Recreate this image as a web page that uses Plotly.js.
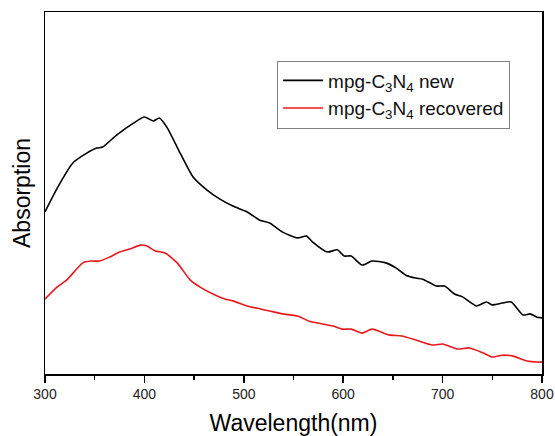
<!DOCTYPE html>
<html>
<head>
<meta charset="utf-8">
<script src="https://cdn.plot.ly/plotly-3.0.1.min.js"></script>
<style>html,body{margin:0;padding:0;background:#fff;}#chart{width:555px;height:436px;}</style>
</head>
<body>
<div id="chart"></div>
<script>
// Wavelength (nm) and absorption (arbitrary units)
const newWavelength = [300, 313, 328, 342, 352, 358, 372, 389, 400, 409, 415, 423, 436, 449, 463, 476, 489, 503, 516, 526, 539, 554, 563, 569, 584, 594, 601, 608, 619, 629, 643, 653, 663, 673, 680, 694, 702, 712, 720, 734, 744, 750, 760, 769, 781, 788, 795, 800];
const newAbsorption = [44.8, 51.7, 58.3, 61.0, 62.4, 62.7, 66.0, 69.3, 71.0, 69.9, 70.7, 68.0, 61.0, 54.4, 50.8, 48.3, 46.4, 44.8, 42.5, 41.7, 39.2, 37.6, 38.1, 36.5, 33.7, 34.3, 32.6, 32.6, 30.1, 31.2, 30.7, 29.3, 27.3, 26.5, 26.2, 24.3, 24.3, 22.1, 21.3, 18.8, 19.9, 19.1, 19.6, 19.9, 16.3, 16.6, 15.7, 15.5];

const recWavelength = [300, 312, 322, 338, 346, 355, 365, 375, 385, 396, 402, 411, 421, 433, 446, 456, 469, 481, 489, 503, 516, 526, 539, 554, 566, 589, 599, 608, 619, 629, 646, 659, 673, 690, 700, 715, 727, 741, 750, 760, 770, 785, 795, 800];
const recAbsorption = [20.7, 24.0, 26.0, 30.7, 31.2, 31.2, 32.3, 33.7, 34.5, 35.6, 35.4, 34.0, 33.4, 30.7, 26.0, 24.0, 22.1, 20.7, 20.2, 18.8, 18.0, 17.4, 16.6, 16.0, 14.6, 13.3, 12.4, 12.4, 11.3, 12.4, 10.8, 10.5, 9.4, 8.0, 8.3, 6.9, 7.2, 5.8, 4.7, 5.2, 5.0, 3.6, 3.3, 3.3];

const seriesNames = ['mpg-C<sub>3</sub>N<sub>4</sub> new', 'mpg-C<sub>3</sub>N<sub>4</sub> recovered'];
const xTickValues = [300, 400, 500, 600, 700, 800];

const traces = [
  {x: newWavelength, y: newAbsorption, name: seriesNames[0], type: 'scatter', mode: 'lines',
   line: {color: '#000000', width: 1.6, shape: 'spline', smoothing: 0.6}},
  {x: recWavelength, y: recAbsorption, name: seriesNames[1], type: 'scatter', mode: 'lines',
   line: {color: '#e8191d', width: 1.6, shape: 'spline', smoothing: 0.6}}
];

const layout = {
  width: 555, height: 436,
  margin: {l: 45, r: 13, t: 12, b: 62},
  paper_bgcolor: '#ffffff', plot_bgcolor: '#ffffff',
  font: {family: 'Liberation Sans, Arial, sans-serif', color: '#000'},
  showlegend: true,
  legend: {
    x: 0.467, y: 0.866, xanchor: 'left', yanchor: 'top',
    bordercolor: '#808080', borderwidth: 1, bgcolor: '#ffffff',
    font: {size: 19, color: '#111'},
    itemwidth: 40,
    tracegroupgap: 0
  },
  xaxis: {
    range: [300, 800], tickvals: xTickValues, ticktext: xTickValues.map(String),
    ticks: 'outside', ticklen: 7, tickwidth: 1.5, tickcolor: '#000',
    minor: {dtick: 50, tick0: 300, ticks: 'outside', ticklen: 4, tickwidth: 1.5, tickcolor: '#000'},
    showline: true, linecolor: '#000', linewidth: 1.5, mirror: true,
    showgrid: false, zeroline: false,
    tickfont: {size: 14, color: '#222'},
    title: {text: 'Wavelength(nm)', font: {size: 23, color: '#000'}, standoff: 14}
  },
  yaxis: {
    range: [0, 100],
    showticklabels: false, ticks: '',
    showline: true, linecolor: '#000', linewidth: 1.5, mirror: true,
    showgrid: false, zeroline: false,
    title: {text: 'Absorption', font: {size: 23, color: '#000'}, standoff: 6}
  }
};

Plotly.newPlot('chart', traces, layout, {displayModeBar: false, staticPlot: true});
</script>
</body>
</html>
